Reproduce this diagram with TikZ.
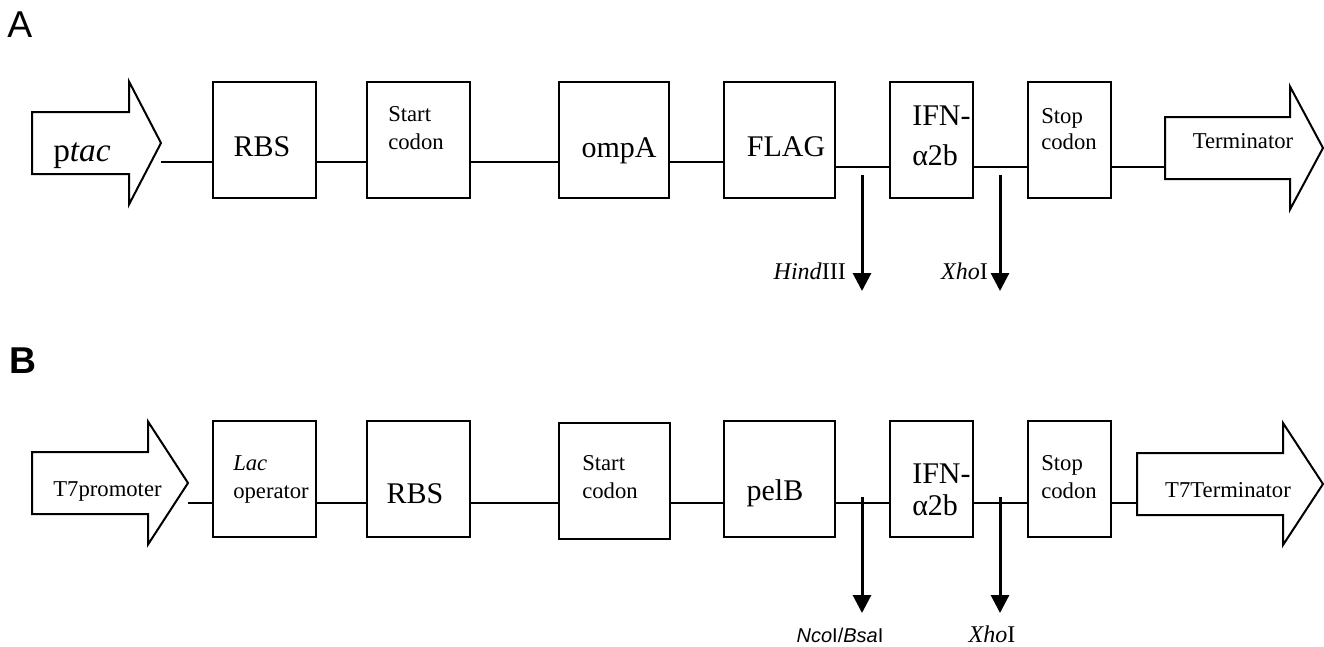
\documentclass[tikz,border=0pt]{standalone}
\usepackage{fontspec}
\setmainfont{Liberation Serif}
\setsansfont{Liberation Sans}
\usetikzlibrary{arrows.meta,calc}
\tikzset{
  gbox/.style={draw, line width=1.5pt, minimum width=#1, minimum height=87pt, inner sep=0pt},
  link/.style={line width=1.5pt},
  garrow/.style={draw, line width=1.5pt, line join=miter},
  cut/.style={line width=2.25pt, -{Triangle[width=13.5pt,length=13.5pt]}},
  big/.style={font=\fontsize{22.5pt}{27pt}\selectfont, inner sep=0pt},
  small/.style={font=\fontsize{17pt}{21pt}\selectfont, inner sep=0pt, align=left},
  site/.style={font=\fontsize{18pt}{21pt}\selectfont, inner sep=0pt},
  panel/.style={font=\sffamily\fontsize{28pt}{32pt}\selectfont, inner sep=0pt},
}
\begin{document}
\begin{tikzpicture}[x=0.75pt, y=-0.75pt]
\useasboundingbox (0,0) rectangle (1324,646);

% ---------------- Panel A ----------------
\node[panel, anchor=base west] (labA) at (7,37) {A};

\draw[garrow] (32,112) -- (129,112) -- (129,81.5) -- (161,143) -- (129,204.5) -- (129,174) -- (32,174) -- cycle;
\coordinate (ptacTip) at (161,143);
\node[anchor=base west, font=\fontsize{25pt}{30pt}\selectfont, inner sep=0pt] (ptac) at (53,161) {p\textit{tac}};

\node[gbox=77.25pt] (rbsA) at (264.5,139.5) {};
\node[big, anchor=base] (rbsAt) at (262,156) {RBS};

\node[gbox=77.25pt] (startA) at (418.5,139.5) {};
\node[small, anchor=base west] (startAt) at (388,149) {Start\\codon};

\node[gbox=82.5pt] (ompA) at (614,139.5) {};
\node[big, anchor=base] (ompAt) at (619,157) {ompA};

\node[gbox=83.25pt] (flagA) at (779.5,139.5) {};
\node[big, anchor=base] (flagAt) at (786,156) {FLAG};

\node[gbox=62.25pt] (ifnA) at (931.5,139.5) {};
\node[inner sep=0pt, anchor=base west, align=left, font=\fontsize{22.5pt}{30pt}\selectfont] (ifnAt) at (912,165) {IFN-\\α2b};

\node[gbox=62.25pt] (stopA) at (1069.5,139.5) {};
\node[small, anchor=base west, font=\fontsize{17pt}{19.5pt}\selectfont] (stopAt) at (1041,149) {Stop\\codon};

\draw[garrow] (1165,117) -- (1290,117) -- (1290,86.5) -- (1323,148) -- (1290,209.5) -- (1290,179) -- (1165,179) -- cycle;
\coordinate (termATail) at (1165,148);
\node[small, anchor=base] (termAt) at (1243,148) {Terminator};

\coordinate (rowA) at (0,162);
\coordinate (rowA2) at (0,167);
\draw[link] (ptacTip |- rowA) -- (rbsA.west |- rowA);
\draw[link] (rbsA.east |- rowA) -- (startA.west |- rowA);
\draw[link] (startA.east |- rowA) -- (ompA.west |- rowA);
\draw[link] (ompA.east |- rowA) -- (flagA.west |- rowA);
\draw[link] (flagA.east |- rowA2) -- (ifnA.west |- rowA2);
\draw[link] (ifnA.east |- rowA2) -- (stopA.west |- rowA2);
\draw[link] (stopA.east |- rowA2) -- (termATail |- rowA2);

\coordinate (hindTop) at (862,175);
\coordinate (hindEnd) at (862,291);
\draw[cut] (hindTop) -- (hindEnd);
\node[site, anchor=base east] (hind) at (846,279) {\textit{Hind}III};

\coordinate (xhoATop) at (1000,175);
\coordinate (xhoAEnd) at (1000,291);
\draw[cut] (xhoATop) -- (xhoAEnd);
\node[site, anchor=base east] (xhoA) at (988,279) {\textit{Xho}I};

% ---------------- Panel B ----------------
\node[panel, anchor=base west, font=\sffamily\bfseries\fontsize{28pt}{32pt}\selectfont] (labB) at (9,373) {B};

\draw[garrow] (32,452) -- (148,452) -- (148,421.5) -- (188,483) -- (148,544.5) -- (148,514) -- (32,514) -- cycle;
\coordinate (t7Tip) at (188,483);
\node[small, anchor=base] (t7t) at (107.5,496) {T7promoter};

\node[gbox=77.25pt] (lacB) at (264.5,479) {};
\node[small, anchor=base west] (lacBt) at (233,498) {\textit{Lac}\\operator};

\node[gbox=77.25pt] (rbsB) at (418.5,479) {};
\node[big, anchor=base] (rbsBt) at (415,503) {RBS};

\node[gbox=83.25pt] (startB) at (614.5,481) {};
\node[small, anchor=base west] (startBt) at (582,498) {Start\\codon};

\node[gbox=83.25pt] (pelB) at (779.5,479) {};
\node[big, anchor=base] (pelBt) at (775,500) {pelB};

\node[gbox=62.25pt] (ifnB) at (931.5,479) {};
\node[inner sep=0pt, anchor=base west, align=left, font=\fontsize{22.5pt}{24pt}\selectfont] (ifnBt) at (912,515) {IFN-\\α2b};

\node[gbox=62.25pt] (stopB) at (1069.5,479) {};
\node[small, anchor=base west] (stopBt) at (1041,498) {Stop\\codon};

\draw[garrow] (1137,453) -- (1283,453) -- (1283,423) -- (1323,484) -- (1283,545) -- (1283,515) -- (1137,515) -- cycle;
\coordinate (termBTail) at (1137,484);
\node[small, anchor=base] (termBt) at (1228,497) {T7Terminator};

\coordinate (rowB) at (0,502.5);
\draw[link] (t7Tip |- rowB) -- (lacB.west |- rowB);
\draw[link] (lacB.east |- rowB) -- (rbsB.west |- rowB);
\draw[link] (rbsB.east |- rowB) -- (startB.west |- rowB);
\draw[link] (startB.east |- rowB) -- (pelB.west |- rowB);
\draw[link] (pelB.east |- rowB) -- (ifnB.west |- rowB);
\draw[link] (ifnB.east |- rowB) -- (stopB.west |- rowB);
\draw[link] (stopB.east |- rowB) -- (termBTail |- rowB);

\coordinate (ncoTop) at (862,497);
\coordinate (ncoEnd) at (862,613);
\draw[cut] (ncoTop) -- (ncoEnd);
\node[anchor=base, inner sep=0pt, font=\sffamily\fontsize{15pt}{18pt}\selectfont] (nco) at (840,642) {\textit{Nco}I/\textit{Bsa}I};

\coordinate (xhoBTop) at (1000,497);
\coordinate (xhoBEnd) at (1000,613);
\draw[cut] (xhoBTop) -- (xhoBEnd);
\node[site, anchor=base] (xhoB) at (992,642) {\textit{Xho}I};
\end{tikzpicture}
\end{document}
